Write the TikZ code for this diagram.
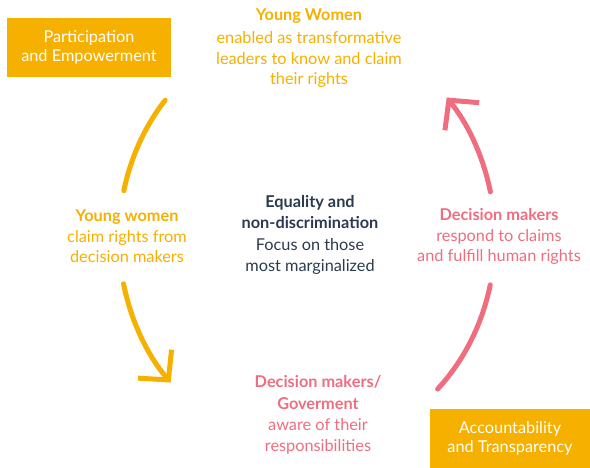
\documentclass[tikz,border=0pt]{standalone}
\usepackage{fontspec}
\setmainfont{Lato}
\usetikzlibrary{arrows.meta}

\definecolor{amber}{HTML}{F5B000}
\definecolor{rose}{HTML}{EE6E80}
\definecolor{slate}{HTML}{2B3A4E}

\tikzset{
    pillar/.style={fill=amber, text=white, align=center, inner sep=0pt,
        minimum height=59pt, font=\fontsize{16.3}{19.5}\selectfont},
    blurb/.style={align=center, font=\fontsize{16.3}{20.5}\selectfont},
    roomy/.style={font=\fontsize{16.3}{21.2}\selectfont},
    cycle/.style={line width=5pt, line cap=round},
    tip/.style={-{Straight Barb[length=21pt, width=44pt]}}
}

\begin{document}
\begin{tikzpicture}[x=1pt, y=1pt]
    % Frame
    \useasboundingbox (0,0) rectangle (590,-468);

    % Boxes
    \node[pillar, minimum width=164pt] (particip) at (89,-47.5)
        {Participation\\and Empowerment};
    \node[pillar, minimum width=160pt] (account) at (510,-438.5)
        {Accountability\\and Transparency};

    % Texts round the cycle
    \node[blurb, text=amber] (youngtop) at (309,-48)
        {\textbf{Young Women}\\[3pt]enabled as transformative\\leaders to know and claim\\their rights};
    \node[blurb, text=amber] (youngleft) at (127,-236.5)
        {\textbf{Young women}\\claim rights from\\decision makers};
    \node[blurb, text=rose] (respond) at (499,-236.5)
        {\textbf{Decision makers}\\respond to claims\\and fulfill human rights};
    \node[blurb, roomy, text=rose] (aware) at (318,-415)
        {\textbf{Decision makers/}\\\textbf{Goverment}\\aware of their\\responsibilities};

    % Centre
    \node[blurb, roomy, text=slate] (centre) at (310,-235)
        {\textbf{Equality and}\\\textbf{non-discrimination}\\Focus on those\\most marginalized};

    % Arcs
    \coordinate (hub) at (307,-238);
    \draw[cycle, amber] (hub) ++(139:188 and 210)
        arc[start angle=139, end angle=167, x radius=188, y radius=210];
    \draw[cycle, amber, tip] (hub) ++(192.6:188 and 210)
        arc[start angle=192.6, end angle=223.5, x radius=188, y radius=210];
    \draw[cycle, rose] (hub) ++(-46:188 and 210)
        arc[start angle=-46, end angle=-12.9, x radius=188, y radius=210];
    \draw[cycle, rose, tip] (hub) ++(12.7:188 and 210)
        arc[start angle=12.7, end angle=42, x radius=188, y radius=210];
\end{tikzpicture}
\end{document}
